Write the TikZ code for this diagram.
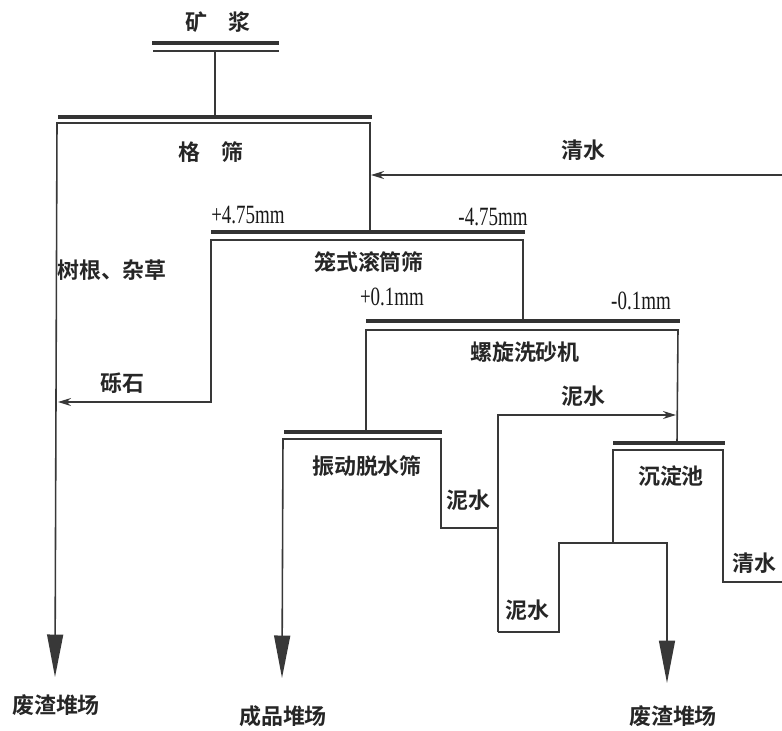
\documentclass[tikz,border=0pt]{standalone}
\usepackage{fontspec}
\setmainfont{Liberation Serif}
\newfontfamily\cjk{Noto Sans CJK SC}[BoldFont={Noto Sans CJK SC Bold}]
\newfontfamily\numfont{Liberation Serif}[FakeStretch=0.72]
\usetikzlibrary{arrows.meta}

\tikzset{
	flow/.style={line width=0.9pt, draw=black!78},
	bar/.style={line width=2.4pt, draw=black!80},
	dump/.style={flow, -{Triangle[length=8.5mm, width=3.2mm]}},
	feed/.style={flow, -{Stealth[length=2.6mm, width=1.6mm]}},
	lbl/.style={font=\cjk\bfseries\fontsize{12.5}{12.5}\selectfont, text=black!85, inner sep=0pt},
	size/.style={font=\numfont\fontsize{15}{15}\selectfont, text=black!90, inner sep=0pt}
}

\begin{document}
\begin{tikzpicture}[x=0.02cm, y=-0.02cm]
			%%%%% START %%%%%
			\useasboundingbox (0, 0) rectangle (782, 731);
			
			% feed
			\node[lbl] (slurry) at (218, 22) {矿\hspace{1em}浆};
			\draw[bar] (152, 43) -- (279, 43);
			\draw[flow, line width=1.3pt] (153, 51) -- (279, 51);
			\draw[flow] (215, 51) -- (215, 117);
			
			% grid screen
			\draw[bar] (58, 117) -- (372, 117);
			\node[lbl] (grid) at (211, 152) {格\hspace{1em}筛};
			\draw[dump] (370, 232) -- (370, 123) -- (57, 123) -- (55, 677);
			\node[lbl] (roots) at (112, 270) {树根、杂草};
			
			\draw[feed] (782, 175) -- (371, 175);
			\node[lbl] (water) at (583, 150) {清水};
			
			% drum screen
			\draw[bar] (211, 232) -- (525, 232);
			\node[size] (plusA) at (248, 215) {+4.75mm};
			\node[size] (minusA) at (493, 217) {-4.75mm};
			\node[lbl] (drum) at (369, 262) {笼式滚筒筛};
			\draw[feed] (523, 321) -- (523, 240) -- (211, 240) -- (211, 402) -- (58, 402);
			\node[lbl] (gravel) at (122, 383) {砾石};
			
			% spiral washer
			\draw[bar] (366, 321) -- (680, 321);
			\node[size] (plusB) at (392, 297) {+0.1mm};
			\node[size] (minusB) at (641, 301) {-0.1mm};
			\node[lbl] (spiral) at (525, 352) {螺旋洗砂机};
			\draw[flow] (366, 432) -- (366, 330) -- (678, 330) -- (677, 443);
			
			\draw[feed] (498, 632) -- (498, 415) -- (676, 415);
			\node[lbl] (mudA) at (583, 396) {泥水};
			
			% dewatering screen
			\draw[bar] (284, 432) -- (442, 432);
			\node[lbl] (dewater) at (367, 466) {振动脱水筛};
			\draw[dump] (498, 528) -- (441, 528) -- (441, 439) -- (283, 439) -- (282, 678);
			\node[lbl] (mudB) at (468, 500) {泥水};
			
			% settling tank
			\draw[bar] (613, 443) -- (725, 443);
			\node[lbl] (tank) at (671, 476) {沉淀池};
			\draw[flow] (782, 582) -- (723, 582) -- (723, 450) -- (613, 450) -- (613, 543);
			\node[lbl] (waterB) at (754, 563) {清水};
			\draw[dump] (498, 632) -- (559, 632) -- (559, 543) -- (667, 543) -- (667, 683);
			\node[lbl] (mudC) at (527, 610) {泥水};
			
			% dumps
			\node[lbl] (wasteA) at (56, 705) {废渣堆场};
			\node[lbl] (product) at (283, 716) {成品堆场};
			\node[lbl] (wasteB) at (673, 716) {废渣堆场};
			
			%%%%% END %%%%%
\end{tikzpicture}
\end{document}
